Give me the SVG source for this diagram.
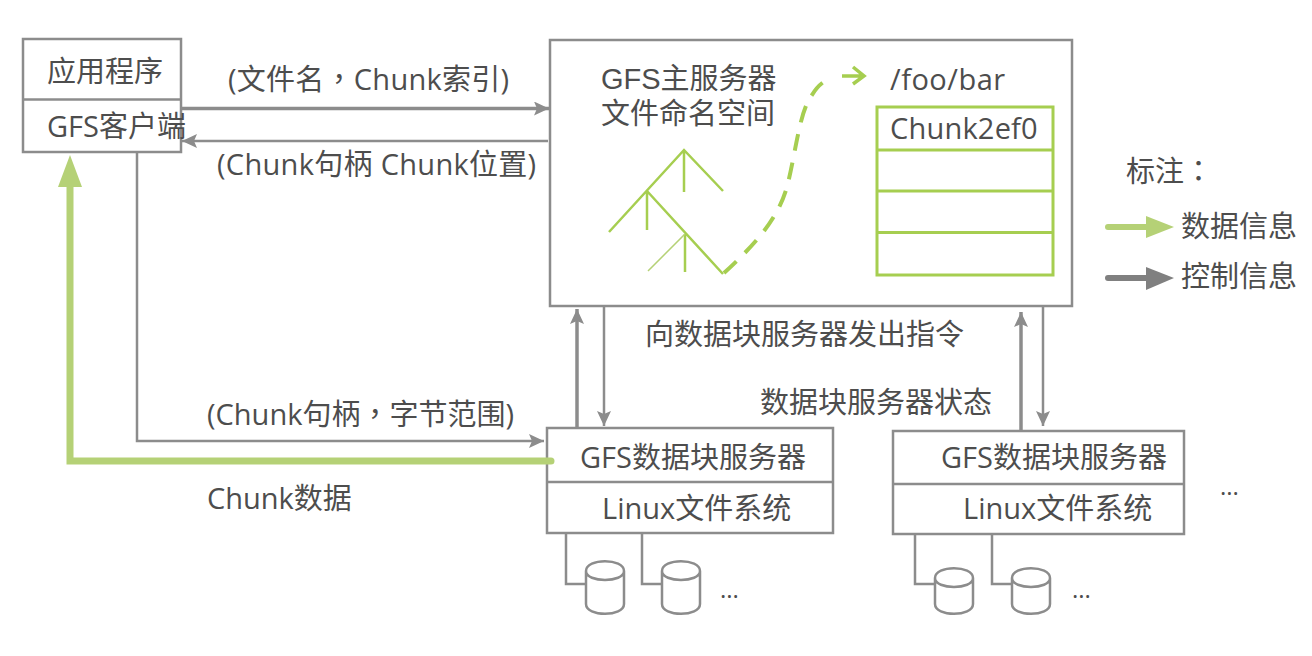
<svg xmlns="http://www.w3.org/2000/svg" width="1312" height="656" viewBox="0 0 1312 656">
<style>
text{font-family:"Open Sans","Noto Sans CJK SC","Noto Sans",sans-serif;font-size:29px;fill:#4d4d4d}
.m{font-family:"Liberation Sans","Noto Sans CJK SC",sans-serif}
.p{font-family:"Noto Sans CJK TC",sans-serif}
.d{font-size:24px}
.b{fill:#fff;stroke:#8c8c8c;stroke-width:2.5}
.l{fill:none;stroke:#8c8c8c;stroke-width:2.5}
.t{fill:none;stroke:#8c8c8c;stroke-width:3.5}
.g{fill:none;stroke:#a6ce50;stroke-width:2.5}
.h{fill:none;stroke:#a6ce50;stroke-width:3}
.c{fill:#fff;stroke:#8c8c8c;stroke-width:2.5}
</style>
<defs>
<marker id="a" markerUnits="userSpaceOnUse" markerWidth="16" markerHeight="14" refX="15" refY="7" orient="auto"><path d="M0 0L15 7L0 14L3 7Z" fill="#8c8c8c"/></marker>
</defs>
<rect width="1312" height="656" fill="#fff"/>
<g id="app"><rect class="b" x="23" y="39" width="158" height="113"/><path class="l" d="M23 99.500H181"/><text x="47" y="82">应用程序</text><text x="47" y="137">GFS客户端</text></g>
<g id="master">
<rect class="b" x="550" y="40" width="522" height="266"/>
<text class="m" x="601" y="89">GFS主服务器</text>
<text class="m" x="601" y="124">文件命名空间</text>
<text x="890" y="90" letter-spacing=".5">/foo/bar</text>
<rect class="h" x="877" y="107" width="176" height="168"/>
<path class="h" d="M877 150H1053M877 191H1053M877 232.500H1053"/>
<text x="890" y="139" letter-spacing=".2">Chunk2ef0</text>
<path class="g" d="M609 232L684 150L723 191M684 150V192M647 191V230M647 191L723 274M685 234V272"/>
<path d="M648 271L685 234" fill="none" stroke="#b5d176" stroke-width="1.500"/>
<path d="M724 273C760 240 780 215 788 183C796 150 800 110 812 95C818 85 825 80 832 78" fill="none" stroke="#a6ce50" stroke-width="4" stroke-dasharray="17 12"/>
<path d="M853 67L864 76L853 84M842 76H862" fill="none" stroke="#a6ce50" stroke-width="3.500"/>
</g>
<g id="server1">
<rect class="b" x="547" y="428" width="286" height="105"/><path class="l" d="M547 482H833"/>
<text x="580" y="468">GFS数据块服务器</text><text x="602" y="519">Linux文件系统</text>
<path class="l" d="M566 534V584H586M642 534V584H662"/>
<path class="c" d="M586 571V604C586 617 624 617 624 604V571C624 558 586 558 586 571C586 583 624 583 624 571"/>
<path class="c" d="M662 571V604C662 617 700 617 700 604V571C700 558 662 558 662 571C662 583 700 583 700 571"/>
<text class="d" x="720" y="598">...</text>
</g>
<g id="server2">
<rect class="b" x="893" y="431" width="291" height="103"/><path class="l" d="M893 484H1184"/>
<text x="941" y="468">GFS数据块服务器</text><text x="963" y="519">Linux文件系统</text>
<path class="l" d="M915 534V584H935M992 534V584H1012"/>
<path class="c" d="M935 578V604C935 617 973 617 973 604V578C973 565 935 565 935 578C935 590 973 590 973 578"/>
<path class="c" d="M1012 578V604C1012 617 1050 617 1050 604V578C1050 565 1012 565 1012 578C1012 590 1050 590 1050 578"/>
<text class="d" x="1072" y="598">...</text>
<text class="d" x="1220" y="495">...</text>
</g>
<g id="connectors">
<path class="t" d="M181 108.500H549" marker-end="url(#a)"/>
<path class="l" d="M548 141H182" marker-end="url(#a)"/>
<path class="l" d="M137 153V441H544" marker-end="url(#a)"/>
<path d="M551 461H70V186" fill="none" stroke="#b5d176" stroke-width="7" stroke-linecap="round"/>
<path d="M70 155L82 187H58Z" fill="#b5d176"/>
<path class="t" d="M577 427V309" marker-end="url(#a)"/>
<path class="l" d="M604 307V426" marker-end="url(#a)"/>
<path class="t" d="M1021 430V312" marker-end="url(#a)"/>
<path class="l" d="M1043 307V426" marker-end="url(#a)"/>
</g>
<g id="labels">
<text x="228" y="90" letter-spacing=".25">(文件名<tspan class="p">，</tspan>Chunk索引)</text>
<text x="217" y="175" letter-spacing=".3">(Chunk句柄 Chunk位置)</text>
<text x="207" y="425">(Chunk句柄<tspan class="p">，</tspan>字节范围)</text>
<text x="207" y="509">Chunk数据</text>
<text x="645" y="345">向数据块服务器发出指令</text>
<text x="760" y="413">数据块服务器状态</text>
</g>
<g id="legend">
<text x="1126" y="182">标注<tspan class="p">：</tspan></text>
<text x="1181" y="237">数据信息</text>
<text x="1181" y="287">控制信息</text>
<path d="M1108 227H1148" stroke="#b5d176" stroke-width="6" stroke-linecap="round"/>
<path d="M1146 216L1174 227L1146 238Z" fill="#b5d176"/>
<path d="M1108 278H1148" stroke="#808080" stroke-width="6" stroke-linecap="round"/>
<path d="M1146 267L1174 278L1146 290Z" fill="#808080"/>
</g>
</svg>
